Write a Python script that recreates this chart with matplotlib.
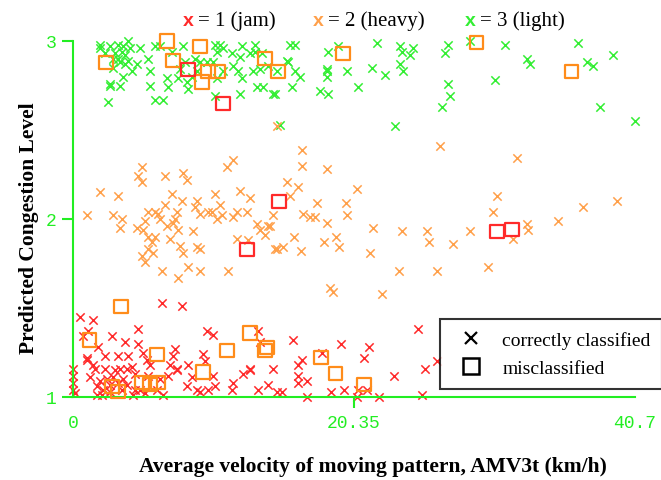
import matplotlib
matplotlib.use("Agg")
import matplotlib.pyplot as plt
from matplotlib.lines import Line2D
import numpy as np

# ---------------------------------------------------------------------------
# Data
# velocity in km/h, predicted level 1..3
# ---------------------------------------------------------------------------

# true light (3), predicted 3 -> green x
light_ok_v = [1.96, 2.68, 3.26, 3.62, 3.98, 4.13, 3.55, 3.04, 3.77, 1.96, 2.9, 3.4, 3.98, 4.63,
              4.27, 3.62, 3.4, 2.68, 2.68, 2.53, 5.43, 5.94, 5.58, 5.58, 5.94, 6.52, 6.3, 7.97,
              7.17, 6.81, 6.88, 7.6, 7.75, 8.25, 8.33, 8.11, 8.83, 9.2, 9.7, 10.14, 8.98, 8.62,
              10.28, 10.64, 10.43, 10.86, 10.86, 10.43, 10.28, 11.51, 11.59, 11.95, 12.24,
              12.24, 12.09, 12.09, 12.82, 13.18, 13.18, 13.03, 13.54, 13.69, 14.12, 13.32,
              13.76, 14.48, 15.71, 16.08, 15.5, 15.57, 14.77, 16.08, 16.44, 14.63, 15.86,
              14.99, 18.46, 19.19, 18.39, 18.39, 18.39, 19.84, 17.89, 18.46, 20.64, 22.01,
              21.65, 22.59, 23.68, 23.82, 24.62, 24.4, 23.68, 23.9, 23.32, 27.15, 26.94,
              27.15, 27.3, 26.72, 28.75, 31.28, 32.87, 33.09, 30.56, 36.57, 37.22, 37.65,
              39.1, 38.16, 40.7, 2.3, 3.26, 3.77, 2.9, 4.85]
light_ok_lvl = [2.98, 2.97, 2.98, 2.97, 3.0, 2.96, 2.94, 2.93, 2.92, 2.96, 2.90, 2.88, 2.89, 2.87,
                2.83, 2.80, 2.75, 2.75, 2.76, 2.66, 2.90, 2.97, 2.83, 2.75, 2.67, 2.67, 2.97, 2.97,
                2.94, 2.79, 2.74, 2.79, 2.84, 2.77, 2.73, 2.88, 2.90, 2.88, 2.88, 2.88, 2.83, 2.80,
                2.98, 2.98, 2.94, 2.96, 2.83, 2.79, 2.69, 2.93, 2.86, 2.83, 2.79,
                2.97, 2.91, 2.70, 2.93, 2.98, 2.94, 2.83, 2.84, 2.93, 2.86, 2.74,
                2.74, 2.70, 2.98, 2.98, 2.89, 2.88, 2.83, 2.83, 2.80, 2.70, 2.74,
                2.53, 2.94, 2.97, 2.84, 2.83, 2.80, 2.83, 2.72, 2.70, 2.74, 2.99,
                2.85, 2.81, 2.97, 2.94, 2.96, 2.92, 2.87, 2.83, 2.52, 2.98, 2.93,
                2.76, 2.69, 2.63, 3.0, 2.98, 2.90, 2.87, 2.78, 2.99, 2.88, 2.86,
                2.92, 2.63, 2.55, 2.93, 2.90, 2.87, 2.85, 2.96]

# true heavy (2), predicted 2 -> orange x
heavy_ok_v = [14.77, 16.58, 26.58, 32.15, 5.0, 4.71, 5.0, 6.66, 7.97, 8.25, 11.15, 11.59, 1.96,
              3.26, 1.0, 2.9, 3.55, 3.4, 4.63, 5.07, 5.21, 5.43, 5.94, 6.15, 6.3, 7.17, 6.66,
              7.53, 7.39, 7.24, 6.81, 7.6, 7.89, 5.43, 5.94, 5.72, 5.43, 5.79, 5.0, 5.21, 7.02,
              7.75, 7.97, 6.44, 7.6, 8.33, 9.2, 8.69, 8.98, 9.2, 8.98, 8.83, 9.2, 9.78, 10.07,
              10.28, 10.64, 10.79, 10.43, 11.88, 11.59, 12.6, 12.09, 12.82, 11.88, 12.67,
              11.22, 13.32, 13.54, 14.12, 13.9, 14.48, 14.77, 16.58, 18.39, 15.5, 16.29,
              15.71, 14.26, 16.65, 17.16, 17.52, 17.67, 19.77, 20.56, 19.84, 18.39, 21.72,
              16.0, 14.63, 15.21, 16.51, 18.18, 19.04, 19.26, 21.51, 23.82, 25.63, 25.78,
              27.52, 28.75, 23.61, 26.36, 30.05, 18.61, 30.7, 30.41, 39.39, 36.93, 35.12,
              32.87, 32.95, 31.86, 18.83, 22.37]
heavy_ok_lvl = [2.52, 2.39, 2.41, 2.34, 2.29, 2.24, 2.21, 2.24, 2.26, 2.22, 2.29, 2.33, 2.15,
                2.13, 2.02, 2.02, 2.0, 1.95, 1.95, 1.94, 1.99, 2.04, 2.04, 2.03, 2.0, 2.14, 2.08,
                2.04, 2.0, 1.98, 1.96, 1.94, 2.10, 1.90, 1.90, 1.87, 1.83, 1.81, 1.79, 1.76, 1.89,
                1.85, 1.81, 1.71, 1.67, 1.73, 1.71, 1.93, 1.84, 1.83, 2.10, 2.07, 2.03, 2.04, 2.04,
                2.14, 2.08, 2.02, 2.0, 2.04, 2.01, 2.04, 2.16, 2.12, 1.89, 1.88,
                1.71, 1.97, 1.94, 1.96, 1.91, 2.02, 1.83, 2.30, 2.28, 2.21, 2.18,
                2.13, 1.96, 2.03, 2.01, 2.01, 2.09, 2.09, 2.17, 2.02, 1.98, 1.95,
                1.90, 1.83, 1.84, 1.82, 1.87, 1.90, 1.84, 1.81, 1.93, 1.93, 1.87,
                1.86, 1.93, 1.71, 1.71, 1.73, 1.61, 2.13, 2.04, 2.10, 2.07, 1.99,
                1.97, 1.94, 1.89, 1.59, 1.58]

# true jam (1), predicted 1 -> red x
jam_ok_v = [6.44, 7.89, 0.5, 1.45, 0.72, 1.1, 2.82, 3.77, 4.71, 1.8, 4.71, 1.0, 1.0, 1.45, 0.0,
            0.0, 0.0, 0.0, 0.14, 2.3, 3.26, 3.98, 5.07, 5.36, 5.58, 7.39, 7.24, 7.02, 2.3, 3.4,
            4.27, 4.49, 1.2, 1.96, 1.74, 2.46, 2.17, 2.68, 2.9, 3.62, 3.91, 3.55, 3.91, 1.74,
            2.1, 4.34, 4.49, 5.43, 4.85, 6.08, 6.52, 6.88, 7.53, 7.53, 8.33, 8.62, 8.25, 8.98,
            9.2, 9.41, 9.56, 9.7, 10.14, 10.14, 10.28, 9.78, 11.59, 11.51, 12.31, 12.82, 12.82,
            13.4, 13.54, 14.48, 13.4, 14.12, 14.77, 15.93, 19.41, 21.43, 21.07, 24.98, 18.03,
            16.58, 16.29, 16.29, 16.94, 16.29, 15.13, 16.94, 18.68, 19.62, 20.64, 21.29,
            20.56, 22.16, 23.24, 25.49, 26.36, 25.27, 3.04, 2.68, 5.21, 1.6, 6.3, 3.26]
jam_ok_lvl = [1.53, 1.51, 1.45, 1.43, 1.34, 1.37, 1.34, 1.31, 1.38, 1.28, 1.30, 1.21, 1.22, 1.18,
              1.16, 1.12, 1.08, 1.04, 1.02, 1.23, 1.23, 1.23, 1.25, 1.21, 1.18, 1.27, 1.23, 1.18,
              1.16, 1.16, 1.17, 1.13, 1.11, 1.09, 1.06, 1.10, 1.04, 1.07, 1.11, 1.10, 1.16, 1.04,
              1.07, 1.01, 1.01, 1.01, 1.04, 1.12, 1.04, 1.04, 1.01, 1.12, 1.16, 1.15, 1.18, 1.11,
              1.06, 1.04, 1.03, 1.24, 1.20, 1.37, 1.35, 1.12, 1.06, 1.04, 1.08, 1.04, 1.13,
              1.16, 1.15, 1.37, 1.31, 1.16, 1.04, 1.07, 1.03, 1.32, 1.30, 1.28, 1.22, 1.38,
              1.25, 1.21, 1.18, 1.12, 1.09, 1.08, 1.03, 1.0, 1.03, 1.04, 1.04, 1.04,
              1.0, 1.0, 1.12, 1.16, 1.20, 1.01, 1.15, 1.03, 1.02, 1.16, 1.10, 1.08]

# misclassified: true heavy (orange square)
heavy_bad_v = [2.39, 6.81, 7.24, 9.2, 9.78, 10.5, 9.34, 13.9, 14.84, 19.55, 29.25, 36.13,
               3.48, 1.2, 6.08, 2.82, 3.26, 5.0, 5.58, 6.15, 9.41, 11.15, 12.82, 13.9, 14.05,
               17.96, 19.04, 21.07]
heavy_bad_lvl = [2.88, 3.0, 2.89, 2.97, 2.83, 2.83, 2.77, 2.90, 2.83, 2.93, 2.99, 2.83,
                 1.51, 1.32, 1.24, 1.06, 1.03, 1.08, 1.07, 1.08, 1.14, 1.26, 1.36, 1.26, 1.28,
                 1.22, 1.13, 1.07]

# misclassified: true jam (red square)
jam_bad_v = [8.33, 10.86, 14.92, 12.6, 30.7, 31.79]
jam_bad_lvl = [2.84, 2.65, 2.10, 1.83, 1.93, 1.94]

RED = "#ff2a2a"
ORANGE = "#ffa04a"
GREEN = "#33ee33"
SQ_ORANGE = "#ff8c1a"

W, H = 661, 481
fig = plt.figure(figsize=(W / 100, H / 100), dpi=100)
ax = fig.add_axes([73 / W, 1 - 398 / H, (635 - 73) / W, (398 - 42) / H])

ax.scatter(light_ok_v, light_ok_lvl, marker="x", s=36, color=GREEN, linewidths=1.1, clip_on=False)
ax.scatter(heavy_ok_v, heavy_ok_lvl, marker="x", s=36, color=ORANGE, linewidths=1.1, clip_on=False)
ax.scatter(jam_ok_v, jam_ok_lvl, marker="x", s=36, color=RED, linewidths=1.1, clip_on=False)
ax.scatter(heavy_bad_v, heavy_bad_lvl, marker="s", s=90, facecolors="none",
           edgecolors=SQ_ORANGE, linewidths=1.6, clip_on=False, zorder=3)
ax.scatter(jam_bad_v, jam_bad_lvl, marker="s", s=90, facecolors="none",
           edgecolors=RED, linewidths=1.6, clip_on=False, zorder=3)

ax.set_xlim(0, 40.7)
ax.set_ylim(1, 3)
for side in ("top", "right"):
    ax.spines[side].set_visible(False)
for side in ("left", "bottom"):
    ax.spines[side].set_color("#22ee22")
    ax.spines[side].set_linewidth(1.5)

ax.set_xticks([0, 20.35, 40.7], ["0", "20.35", "40.7"])
ax.set_yticks([1, 2, 3], ["1", "2", "3"])
ax.tick_params(axis="both", colors="#22ee22", direction="out", length=8, width=1.5,
               labelsize=13, labelfontfamily="Liberation Mono")
ax.tick_params(axis="x", pad=4)
ax.tick_params(axis="y", pad=4)
ticks = ax.xaxis.get_major_ticks()
ticks[0].tick1line.set_visible(False)
ticks[2].tick1line.set_visible(False)

ax.set_xlabel("Average velocity of moving pattern, AMV3t (km/h)", family="Liberation Serif",
              fontweight="bold", fontsize=15.5, labelpad=18)
ax.set_ylabel("Predicted Congestion Level", family="Liberation Serif",
              fontweight="bold", fontsize=15.5, labelpad=5)
ax.xaxis.label.set_x(0.534)
ax.yaxis.label.set_y(0.478)

# class key at the top
key = [(183, RED, "= 1 (jam)"), (313, ORANGE, "= 2 (heavy)"), (465, GREEN, "= 3 (light)")]
for px, col, txt in key:
    fig.text(px / W, 1 - 21 / H, "x", color=col, fontweight="bold", fontsize=14,
             family="Liberation Sans", va="center")
    fig.text((px + 15) / W, 1 - 21 / H, txt, color="black", fontsize=15,
             family="Liberation Serif", va="center")

handles = [
    Line2D([], [], marker="x", linestyle="none", color="black", markersize=8, markeredgewidth=1.6),
    Line2D([], [], marker="s", linestyle="none", markerfacecolor="none", markeredgecolor="black",
           markersize=12, markeredgewidth=1.8),
]
leg = ax.legend(handles, ["correctly classified", "misclassified"], loc="upper left",
                bbox_to_anchor=((440 - 73) / 562, (398 - 320) / 356), frameon=True,
                fancybox=False, prop={"family": "Liberation Serif", "size": 14},
                borderpad=0.6, borderaxespad=0.0, handletextpad=0.6, labelspacing=0.55)
leg.get_frame().set_edgecolor("black")
leg.get_frame().set_linewidth(1.5)
leg.set_zorder(5)

fig.savefig("out.png", dpi=100)
